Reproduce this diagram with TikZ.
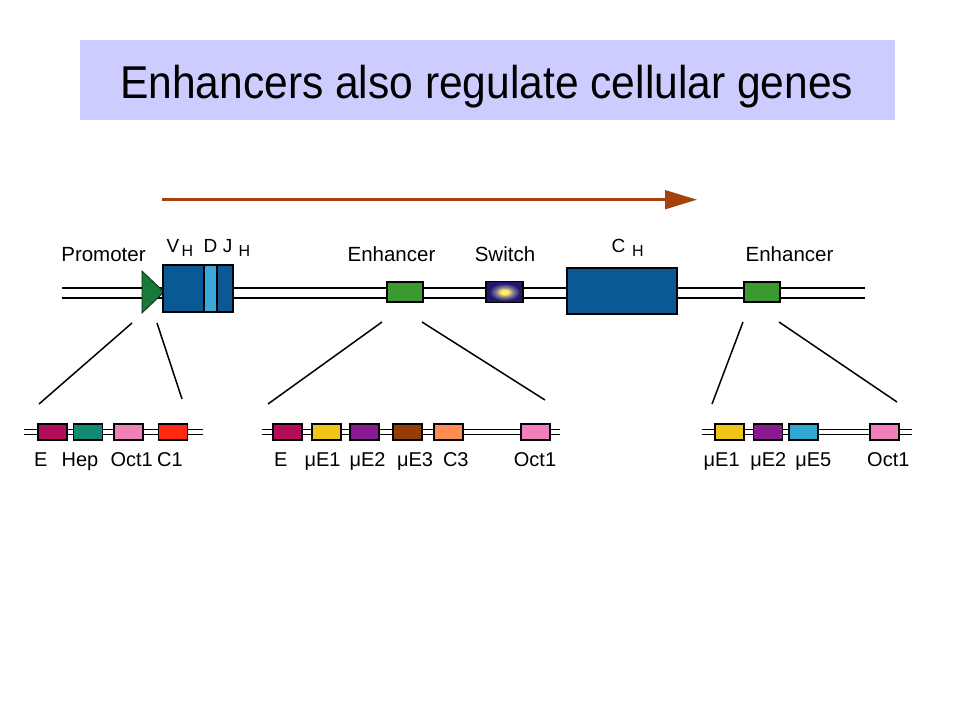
\documentclass[tikz,border=0pt]{standalone}
\usepackage{fontspec}
\setmainfont{Liberation Sans}
\usetikzlibrary{arrows.meta,shapes.geometric}
\definecolor{titlebg}{RGB}{204,204,255}
\definecolor{dnablue}{RGB}{10,88,148}
\definecolor{lightblue}{RGB}{58,168,216}
\definecolor{enhgreen}{RGB}{58,154,48}
\definecolor{promgreen}{RGB}{24,122,58}
\definecolor{cE}{RGB}{178,14,90}
\definecolor{cHep}{RGB}{16,138,112}
\definecolor{cOct}{RGB}{240,128,184}
\definecolor{cCone}{RGB}{255,40,16}
\definecolor{cEone}{RGB}{240,196,24}
\definecolor{cEtwo}{RGB}{138,26,144}
\definecolor{cEthree}{RGB}{150,60,10}
\definecolor{cCthree}{RGB}{255,140,80}
\definecolor{cEfive}{RGB}{48,168,210}
\definecolor{arrowbrown}{RGB}{164,66,14}
\definecolor{swY}{RGB}{255,240,100}
\definecolor{swM}{RGB}{130,120,150}
\definecolor{swB}{RGB}{30,24,110}
\pgfdeclareradialshading{switchglow}{\pgfpoint{0bp}{0bp}}{color(0bp)=(swY); color(5bp)=(swY); color(12bp)=(swM); color(21bp)=(swB); color(50bp)=(swB)}
\tikzset{
  toplbl/.style={font=\fontsize{20.5}{22}\selectfont, anchor=base, inner sep=0pt},
  lowlbl/.style={font=\fontsize{20}{22}\selectfont, anchor=base, inner sep=0pt},
  genlbl/.style={font=\fontsize{19}{20}\selectfont, anchor=base, inner sep=0pt},
  sublbl/.style={font=\fontsize{16}{17}\selectfont, anchor=base, inner sep=0pt},
  genebox/.style={draw=black, line width=1.3pt, inner sep=0pt, minimum height=#1},
  enhbox/.style={draw=black, line width=1.2pt, fill=enhgreen, inner sep=0pt, minimum width=36pt, minimum height=20pt},
  elem/.style={draw=black, line width=1.1pt, fill=#1, inner sep=0pt, minimum width=29pt, minimum height=16pt},
  dna/.style={line width=1.6pt},
  track/.style={line width=1.3pt},
  zoomline/.style={line width=1.5pt},
}
\begin{document}
\begin{tikzpicture}[x=1pt,y=-1pt]
\useasboundingbox (0,0) rectangle (960,720);
\fill[white] (0,0) rectangle (960,720);
% title
\fill[titlebg] (80,40) rectangle (895,120);
\node[anchor=base, inner sep=0pt, font=\fontsize{46}{50}\selectfont] (title) at (486.7,98.3) {\scalebox{0.925}[1]{Enhancers also regulate cellular genes}};
% transcription arrow
\coordinate (arrS) at (162,199.7);
\coordinate (arrE) at (697,199.7);
\draw[arrowbrown, line width=3pt, -{Triangle[length=32pt,width=18.6pt]}] (arrS) -- (arrE);
% main DNA
\coordinate (mL) at (62,0);
\coordinate (mR) at (865,0);
\draw[dna] (mL |- 0,288) -- (mR |- 0,288);
\draw[dna] (mL |- 0,298) -- (mR |- 0,298);
% promoter
\coordinate (pA) at (142,271);
\coordinate (pB) at (142,313);
\coordinate (pC) at (164,292);
\filldraw[fill=promgreen, draw=black!70!promgreen, line width=0.8pt] (pA) -- (pC) -- (pB) -- cycle;
% VDJ
\node[genebox=47pt, fill=dnablue, minimum width=41pt] (V) at (183.5,288.5) {};
\node[genebox=47pt, fill=lightblue, minimum width=13pt] (D) at (210.5,288.5) {};
\node[genebox=47pt, fill=dnablue, minimum width=16pt] (J) at (225,288.5) {};
% enhancer, switch, CH
\node[enhbox] (enhA) at (405,292) {};
\node[draw=black, line width=1.2pt, shading=switchglow, inner sep=0pt, minimum width=37pt, minimum height=21pt] (sw) at (504.5,292) {};
\node[genebox=46pt, fill=dnablue, minimum width=110pt] (CH) at (622,291) {};
\node[enhbox] (enhB) at (762,292) {};
% top labels
\node[toplbl] (lPromoter) at (103.5,261.5) {Promoter};
\node[genlbl] (lV) at (173,252.5) {V};
\node[sublbl] (lVH) at (187.5,256) {H};
\node[genlbl] (lD) at (210.5,252.5) {D};
\node[genlbl] (lJ) at (227.5,252.5) {J};
\node[sublbl] (lJH) at (244.5,256) {H};
\node[toplbl] (lEnhA) at (391.5,261.5) {Enhancer};
\node[toplbl] (lSwitch) at (505,261.5) {Switch};
\node[genlbl] (lC) at (618.5,252.5) {C};
\node[sublbl] (lCH) at (638,256) {H};
\node[toplbl] (lEnhB) at (789.5,261.5) {Enhancer};
% zoom lines
\coordinate (z1a) at (132,323); \coordinate (z1b) at (39,404);
\coordinate (z2a) at (157,323); \coordinate (z2b) at (182,399);
\coordinate (z3a) at (382,322); \coordinate (z3b) at (268,404);
\coordinate (z4a) at (422,322); \coordinate (z4b) at (545,400);
\coordinate (z5a) at (743,322); \coordinate (z5b) at (712,404);
\coordinate (z6a) at (779,322); \coordinate (z6b) at (897,402);
\draw[zoomline] (z1a) -- (z1b);
\draw[zoomline] (z2a) -- (z2b);
\draw[zoomline] (z3a) -- (z3b);
\draw[zoomline] (z4a) -- (z4b);
\draw[zoomline] (z5a) -- (z5b);
\draw[zoomline] (z6a) -- (z6b);
% lower tracks
\coordinate (t1L) at (24,0); \coordinate (t1R) at (203,0);
\coordinate (t2L) at (262,0); \coordinate (t2R) at (560,0);
\coordinate (t3L) at (702,0); \coordinate (t3R) at (912,0);
\foreach \l/\r in {t1L/t1R,t2L/t2R,t3L/t3R}{
  \draw[track] (\l |- 0,429.3) -- (\r |- 0,429.3);
  \draw[track] (\l |- 0,434.7) -- (\r |- 0,434.7);
}
% left elements
\node[elem=cE] (aE) at (52.5,432) {};
\node[elem=cHep] (aHep) at (88,432) {};
\node[elem=cOct] (aOct) at (128.5,432) {};
\node[elem=cCone] (aC) at (173,432) {};
\node[lowlbl] (laE) at (40.8,466.7) {E};
\node[lowlbl] (laHep) at (80,466.7) {Hep};
\node[lowlbl] (laOct) at (131.7,466.7) {Oct1};
\node[lowlbl] (laC) at (170,466.7) {C1};
% middle elements
\node[elem=cE] (bE) at (287.5,432) {};
\node[elem=cEone] (bE1) at (326.5,432) {};
\node[elem=cEtwo] (bE2) at (364.5,432) {};
\node[elem=cEthree] (bE3) at (407.5,432) {};
\node[elem=cCthree] (bC3) at (448.5,432) {};
\node[elem=cOct] (bOct) at (535.5,432) {};
\node[lowlbl] (lbE) at (280.8,466.7) {E};
\node[lowlbl] (lbE1) at (322.5,466.7) {μE1};
\node[lowlbl] (lbE2) at (367.5,466.7) {μE2};
\node[lowlbl] (lbE3) at (415,466.7) {μE3};
\node[lowlbl] (lbC3) at (455.8,466.7) {C3};
\node[lowlbl] (lbOct) at (535,466.7) {Oct1};
% right elements
\node[elem=cEone] (cE1) at (729.5,432) {};
\node[elem=cEtwo] (cE2) at (768,432) {};
\node[elem=cEfive] (cE5) at (803.5,432) {};
\node[elem=cOct] (cOct1) at (884.5,432) {};
\node[lowlbl] (lcE1) at (721.7,466.7) {μE1};
\node[lowlbl] (lcE2) at (768.3,466.7) {μE2};
\node[lowlbl] (lcE5) at (813.3,466.7) {μE5};
\node[lowlbl] (lcOct) at (888.3,466.7) {Oct1};
\end{tikzpicture}
\end{document}
